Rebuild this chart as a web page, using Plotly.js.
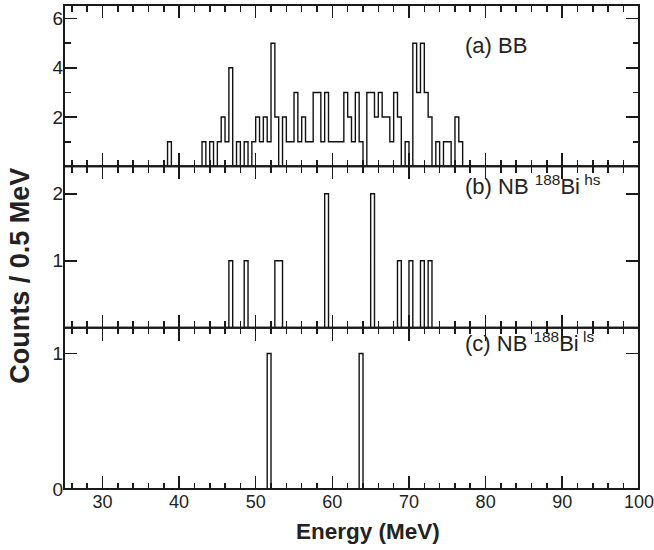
<!DOCTYPE html>
<html><head><meta charset="utf-8">
<script src="https://cdn.plot.ly/plotly-3.0.1.min.js"></script>
<style>html,body{margin:0;padding:0;background:#fff}#chart{width:654px;height:550px}</style>
</head><body><div id="chart"></div>
<script>
// ---- data (bin lower edges in MeV, counts per 0.5 MeV) ----
const binWidth = 0.5;
const energyMin = 25;
const energyMax = 100;

const bbEnergy = [38.5, 43, 44, 45, 45.5, 46, 46.5, 47.5, 48.5, 49.5, 50, 50.5, 51, 51.5, 52, 52.5, 53.5, 54, 54.5, 55, 55.5, 56, 56.5, 57, 57.5, 58, 58.5, 59, 59.5, 60, 60.5, 61, 61.5, 62, 62.5, 63, 63.5, 64.5, 65, 65.5, 66, 66.5, 67, 67.5, 68, 68.5, 69.5, 70.5, 71, 71.5, 72, 72.5, 73.5, 74.5, 75, 76, 76.5];
const bbCounts = [1, 1, 1, 1, 2, 1, 4, 1, 1, 1, 2, 1, 2, 1, 5, 2, 2, 1, 1, 3, 1, 2, 1, 1, 3, 3, 1, 3, 1, 1, 1, 1, 3, 2, 1, 3, 1, 3, 3, 2, 3, 2, 2, 1, 3, 2, 1, 5, 3, 5, 3, 2, 1, 1, 1, 2, 1];

const hsEnergy = [46.5, 48.5, 52.5, 53, 59, 65, 68.5, 70, 71.5, 72.5];
const hsCounts = [1, 1, 1, 1, 2, 2, 1, 1, 1, 1];

const lsEnergy = [51.5, 63.5];
const lsCounts = [1, 1];

const xTickVals = [30, 40, 50, 60, 70, 80, 90, 100];
const yTicksA = [2, 4, 6];
const yMinorA = [1, 3, 5];
const yTicksB = [1, 2];
const yTicksC = [0, 1];

const panelLabels = ["(a) BB", "(b) NB <sup>188</sup>Bi<sup> hs</sup>", "(c) NB <sup>188</sup>Bi<sup> ls</sup>"];
const xTitle = "Energy (MeV)";
const yTitle = "Counts / 0.5 MeV";

// ---- build step histograms ----
function stepSeries(E, N) {
  const nb = Math.round((energyMax - energyMin) / binWidth);
  const counts = new Array(nb).fill(0);
  E.forEach((e, i) => { counts[Math.round((e - energyMin) / binWidth)] = N[i]; });
  const xs = [], ys = [];
  for (let i = 0; i < nb; i++) { xs.push(energyMin + i * binWidth); ys.push(counts[i]); }
  xs.push(energyMax); ys.push(0);
  return {xs, ys};
}

const FONT = 'Liberation Sans, Arial, Helvetica, sans-serif';
const INK = '#1a1a1a';
const TICKSIZE = 18;
const lineStyle = {color: '#111', width: 1.4, shape: 'hv'};

const a = stepSeries(bbEnergy, bbCounts);
const b = stepSeries(hsEnergy, hsCounts);
const c = stepSeries(lsEnergy, lsCounts);

const traces = [
  {x: c.xs, y: c.ys, xaxis: 'x', yaxis: 'y', mode: 'lines', line: lineStyle, hoverinfo: 'skip'},
  {x: b.xs, y: b.ys, xaxis: 'x2', yaxis: 'y2', mode: 'lines', line: lineStyle, hoverinfo: 'skip'},
  {x: a.xs, y: a.ys, xaxis: 'x3', yaxis: 'y3', mode: 'lines', line: lineStyle, hoverinfo: 'skip'}
];

function xAxis(anchor, showLabels) {
  return {
    anchor: anchor, domain: [0, 1], range: [energyMin - 0.01, energyMax + 0.01],
    tickmode: 'array', tickvals: xTickVals, showticklabels: showLabels,
    ticklabeloverflow: 'allow',
    ticks: 'inside', ticklen: 13, tickwidth: 1.6, tickcolor: INK,
    minor: {tickmode: 'linear', tick0: 0, dtick: 2, ticks: 'inside', ticklen: 6.5, tickwidth: 1.6, tickcolor: INK, showgrid: false},
    showline: false, mirror: 'ticks',
    showgrid: false, zeroline: false,
    tickfont: {family: FONT, size: TICKSIZE, color: '#222'}
  };
}
function yAxis(anchor, domain, range, tv, minorVals) {
  const ax = {
    anchor: anchor, domain: domain, range: range,
    tickmode: 'array', tickvals: tv,
    ticklabeloverflow: 'allow',
    ticks: 'inside', ticklen: 13, tickwidth: 1.6, tickcolor: INK,
    showline: false, mirror: 'ticks',
    showgrid: false, zeroline: false,
    tickfont: {family: FONT, size: TICKSIZE + 1, color: '#222'}
  };
  if (minorVals) ax.minor = {tickmode: 'array', tickvals: minorVals, ticks: 'inside', ticklen: 6.5, tickwidth: 1.6, tickcolor: INK, showgrid: false};
  return ax;
}

function frame(xa, ya) {
  return {type: 'rect', xref: xa + ' domain', yref: ya + ' domain', x0: 0, x1: 1, y0: 0, y1: 1, line: {color: INK, width: 2}, fillcolor: 'rgba(0,0,0,0)', layer: 'above'};
}

const layout = {
  width: 654, height: 550,
  margin: {l: 64, r: 15, t: 5, b: 61},
  paper_bgcolor: '#fff', plot_bgcolor: '#fff',
  showlegend: false,
  xaxis: xAxis('y', true),
  xaxis2: xAxis('y2', false),
  xaxis3: xAxis('y3', false),
  yaxis: yAxis('x', [0, 1/3], [0, 1.19], yTicksC),
  yaxis2: yAxis('x2', [1/3, 2/3], [0, 2.41], yTicksB),
  yaxis3: yAxis('x3', [2/3, 1], [0, 6.55], yTicksA, yMinorA),
  shapes: [frame('x', 'y'), frame('x2', 'y2'), frame('x3', 'y3')],
  annotations: [
    {text: panelLabels[0], xref: 'paper', yref: 'paper', x: 0.694, y: 0.917, xanchor: 'left', yanchor: 'middle', showarrow: false, font: {family: FONT, size: 22, color: '#222'}},
    {text: panelLabels[1], xref: 'paper', yref: 'paper', x: 0.694, y: 0.628, xanchor: 'left', yanchor: 'middle', showarrow: false, font: {family: FONT, size: 22, color: '#222'}},
    {text: panelLabels[2], xref: 'paper', yref: 'paper', x: 0.694, y: 0.304, xanchor: 'left', yanchor: 'middle', showarrow: false, font: {family: FONT, size: 22, color: '#222'}},
    {text: '<b>' + xTitle + '</b>', xref: 'paper', yref: 'paper', x: 0.529, y: -0.087, xanchor: 'center', yanchor: 'middle', showarrow: false, font: {family: FONT, size: 22.5, color: '#222'}},
    {text: '<b>' + yTitle + '</b>', xref: 'paper', yref: 'paper', x: -0.077, y: 0.44, xanchor: 'center', yanchor: 'middle', textangle: -90, showarrow: false, font: {family: FONT, size: 27, color: '#222'}}
  ]
};

Plotly.newPlot('chart', traces, layout, {staticPlot: true, displayModeBar: false});
</script>
</body></html>
